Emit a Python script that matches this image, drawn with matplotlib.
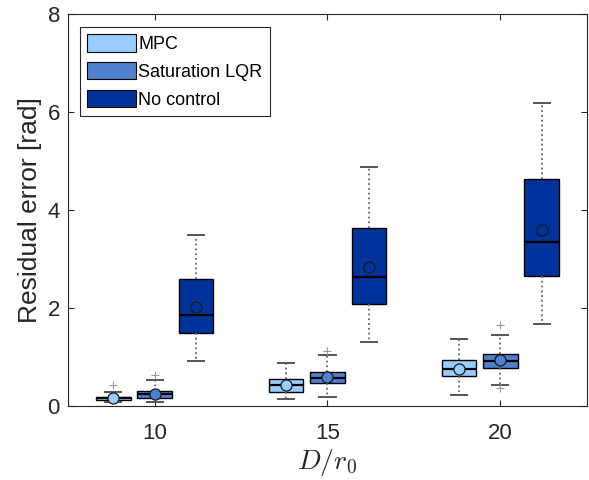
import numpy as np
import matplotlib
matplotlib.use('Agg')
import matplotlib.pyplot as plt
from matplotlib.patches import Patch

plt.rcParams['font.family'] = ['Liberation Sans', 'DejaVu Sans']
plt.rcParams['mathtext.fontset'] = 'cm'

# residual error statistics per method and turbulence strength D/r0
d_r0 = [10, 15, 20]
methods = ['MPC', 'Saturation LQR', 'No control']
colors = ['#99ccff', '#4f80d0', '#003399']

q1 = {'MPC': [0.13, 0.30, 0.62],
      'Saturation LQR': [0.18, 0.47, 0.78],
      'No control': [1.49, 2.09, 2.67]}
med = {'MPC': [0.16, 0.43, 0.77],
       'Saturation LQR': [0.26, 0.57, 0.93],
       'No control': [1.87, 2.64, 3.36]}
q3 = {'MPC': [0.20, 0.55, 0.94],
      'Saturation LQR': [0.32, 0.70, 1.07],
      'No control': [2.60, 3.64, 4.64]}
whislo = {'MPC': [0.09, 0.14, 0.23],
          'Saturation LQR': [0.08, 0.20, 0.43],
          'No control': [0.93, 1.31, 1.68]}
whishi = {'MPC': [0.29, 0.89, 1.37],
          'Saturation LQR': [0.53, 1.05, 1.45],
          'No control': [3.49, 4.88, 6.19]}
means = {'MPC': [0.17, 0.44, 0.77],
         'Saturation LQR': [0.26, 0.60, 0.94],
         'No control': [2.02, 2.84, 3.61]}
fliers = {'MPC': [[0.44], [], []],
          'Saturation LQR': [[0.63], [1.12], [1.67, 0.37]],
          'No control': [[], [], []]}

offsets = [-1.2, 0.0, 1.2]
box_w = 1.0

fig = plt.figure(figsize=(5.89, 4.80), dpi=100)
ax = fig.add_axes([0.116, 0.1535, 0.880, 0.8163])

for m, off, c in zip(methods, offsets, colors):
    stats = []
    for i in range(len(d_r0)):
        stats.append(dict(q1=q1[m][i], med=med[m][i], q3=q3[m][i],
                          whislo=whislo[m][i], whishi=whishi[m][i],
                          mean=means[m][i], fliers=fliers[m][i]))
    pos = [d + off for d in d_r0]
    ax.bxp(stats, positions=pos, widths=box_w, patch_artist=True,
           showmeans=True, capwidths=0.47,
           boxprops=dict(facecolor=c, edgecolor='black', linewidth=1.0),
           medianprops=dict(color='black', linewidth=1.6),
           whiskerprops=dict(color='#666666', linestyle=':', linewidth=1.3),
           capprops=dict(color='#555555', linewidth=1.4),
           meanprops=dict(marker='o', markerfacecolor=c, markeredgecolor='#1a1a1a',
                          markersize=8, markeredgewidth=0.9),
           flierprops=dict(marker='+', markeredgecolor='#999999', markersize=6,
                           markeredgewidth=0.8))

ax.set_xlim(7.5, 22.5)
ax.set_ylim(0, 8)
ax.set_xticks(d_r0)
ax.set_xticklabels([str(d) for d in d_r0])
ax.set_yticks([0, 2, 4, 6, 8])
ax.tick_params(direction='in', labelsize=16, colors='#262626', length=4,
               top=True, right=True, width=0.8)
ax.tick_params(axis='x', pad=12)
ax.tick_params(axis='y', pad=6)
for s in ax.spines.values():
    s.set_color('#262626')
    s.set_linewidth(0.8)

ax.set_ylabel('Residual error [rad]', fontsize=19, color='#262626', labelpad=4)
ax.set_xlabel(r'$D/r_0$', fontsize=20, color='#262626', labelpad=2)

handles = [Patch(facecolor=c, edgecolor='black', linewidth=0.8) for c in colors]
leg = ax.legend(handles, methods, loc='upper left', bbox_to_anchor=(0.023, 0.968),
                borderaxespad=0, fontsize=13, handlelength=2.7, handleheight=1.1,
                labelspacing=0.5, handletextpad=0.12, borderpad=0.4,
                fancybox=False, edgecolor='#262626', framealpha=1)
leg.get_frame().set_linewidth(0.8)

fig.savefig('out.png', dpi=100)
